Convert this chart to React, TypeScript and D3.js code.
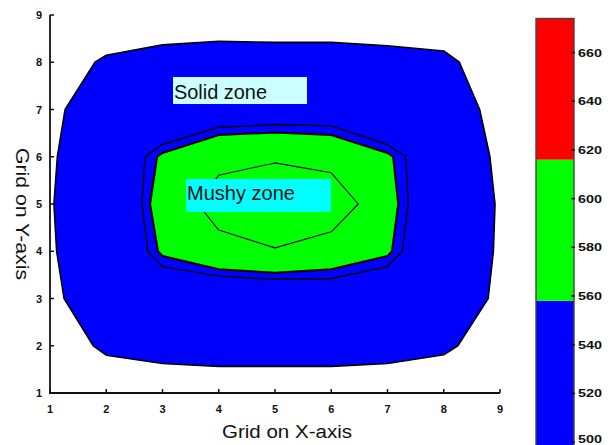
import React from "react";
import * as d3 from "d3";

// Temperature field sampled on a 9 x 9 grid (x = 1..9 left to right).
// Each row is one grid line in y, listed from y = 9 (top) down to y = 1.
const gridXValues = [1, 2, 3, 4, 5, 6, 7, 8, 9];
const gridYValues = [9, 8, 7, 6, 5, 4, 3, 2, 1];
const rowY9 = [480, 483, 488, 490, 489, 489, 487, 484, 480];
const rowY8 = [488, 503, 507, 508, 508, 508, 507, 505, 487];
const rowY7 = [497.8, 506, 512, 528.5, 531, 533, 512, 506, 496.6];
const rowY6 = [497.0, 520, 562, 583.1, 586.7, 579.3, 562, 522, 495.2];
const rowY5 = [499.25, 510, 571.6, 600.8, 612, 610.8, 567.5, 517.5, 498.3];
const rowY4 = [498.4, 512, 562, 581.2, 588.3, 575.5, 562, 512, 498.4];
const rowY3 = [498, 506, 522, 520, 522, 529.5, 522, 506, 498.4];
const rowY2 = [490, 503, 506, 507, 507, 507, 506, 504, 488];
const rowY1 = [480, 488, 490, 491, 491, 491, 490, 483, 480];

// Colour bands of the map and the colour bar
const bandLevels = [500, 558, 616, 674];
const bandColors = ["#0000ff", "#00ff00", "#ff0000"];
// Iso-lines drawn in black over the filled bands
const lineLevels = [500, 549, 558, 590];
const lineWidths = [1.6, 1.4, 2, 1.1];

const xTicks = [1, 2, 3, 4, 5, 6, 7, 8, 9];
const yTicks = [1, 2, 3, 4, 5, 6, 7, 8, 9];
const barTicks = [500, 520, 540, 560, 580, 600, 620, 640, 660];

const zoneLabels = [
  { text: "Solid zone", fill: "#ccffff" },
  { text: "Mushy zone", fill: "#00ffff" },
];

const FONT = "'Liberation Sans', Arial, sans-serif";

export default function App() {
  const width = 610;
  const height = 445;

  const x = d3.scaleLinear().domain([1, 9]).range([50, 500]);
  const y = d3.scaleLinear().domain([1, 9]).range([393, 15]);
  const bar = d3.scaleLinear().domain([500, 674]).range([442, 18.5]);

  const nx = gridXValues.length;
  const ny = gridYValues.length;
  const values = [rowY9, rowY8, rowY7, rowY6, rowY5, rowY4, rowY3, rowY2, rowY1].flat();

  const fills = d3.contours().size([nx, ny]).thresholds(bandLevels.slice(0, 3))(values);
  const lines = d3.contours().size([nx, ny]).thresholds(lineLevels)(values);

  // grid index i sits at contour coordinate i + 0.5
  const projection = d3.geoTransform({
    point: function (gx: number, gy: number) {
      const dataX = gridXValues[0] + (gx - 0.5) * (gridXValues[1] - gridXValues[0]);
      const dataY = gridYValues[0] + (gy - 0.5) * (gridYValues[1] - gridYValues[0]);
      (this as any).stream.point(x(dataX), y(dataY));
    },
  });
  const path = d3.geoPath(projection);

  const solidBox = { x0: 173, y0: 77, w: 134, h: 27, tx: 174, ty: 99, len: 93 };
  const mushyBox = { x0: 186, y0: 179, w: 145, h: 33, tx: 187, ty: 200, len: 108 };

  return (
    <svg
      width={width}
      height={height}
      style={{ position: "absolute", left: 0, top: 0, background: "#fff" }}
      fontFamily={FONT}
    >
      {/* filled bands */}
      {fills.map((c, i) => (
        <path key={"f" + i} d={path(c as any) || ""} fill={bandColors[i]} stroke="none" />
      ))}
      {/* iso-lines */}
      {lines.map((c, i) => (
        <path
          key={"l" + i}
          d={path(c as any) || ""}
          fill="none"
          stroke="#000"
          strokeWidth={lineWidths[i]}
          strokeLinejoin="round"
        />
      ))}

      {/* zone annotations */}
      {[solidBox, mushyBox].map((b, i) => (
        <g key={"z" + i}>
          <rect x={b.x0} y={b.y0} width={b.w} height={b.h} fill={zoneLabels[i].fill} />
          <text
            x={b.tx}
            y={b.ty}
            fontSize={20}
            textLength={b.len}
            lengthAdjust="spacingAndGlyphs"
            fill="#111"
          >
            {zoneLabels[i].text}
          </text>
        </g>
      ))}

      {/* axes */}
      <line x1={x(1)} y1={y(9)} x2={x(1)} y2={y(1) + 1} stroke="#111" strokeWidth={1.8} />
      <line x1={x(1) - 1} y1={y(1)} x2={x(9)} y2={y(1)} stroke="#111" strokeWidth={1.8} />
      {yTicks.map((t) => (
        <g key={"yt" + t}>
          <line x1={x(1)} x2={x(1) + 4} y1={y(t)} y2={y(t)} stroke="#111" strokeWidth={1.5} />
          <text
            x={39}
            y={y(t) + 4}
            fontSize={11}
            fontWeight="bold"
            textAnchor="middle"
            fill="#111"
          >
            {t}
          </text>
        </g>
      ))}
      {xTicks.map((t) => (
        <g key={"xt" + t}>
          <line x1={x(t)} x2={x(t)} y1={y(1)} y2={y(1) - 4} stroke="#111" strokeWidth={1.5} />
          <text
            x={x(t)}
            y={413}
            fontSize={11}
            fontWeight="bold"
            textAnchor="middle"
            fill="#111"
          >
            {t}
          </text>
        </g>
      ))}
      <text
        x={287}
        y={438}
        fontSize={18}
        textAnchor="middle"
        textLength={130}
        lengthAdjust="spacingAndGlyphs"
        fill="#111"
      >
        Grid on X-axis
      </text>
      <text
        transform="translate(22,214) rotate(90)"
        fontSize={18}
        textAnchor="middle"
        dy="0.35em"
        textLength={132}
        lengthAdjust="spacingAndGlyphs"
        fill="#111"
      >
        Grid on Y-axis
      </text>

      {/* colour bar */}
      {bandColors.map((col, i) => {
        const top = bar(bandLevels[i + 1]);
        const bottom = i === 0 ? height + 2 : bar(bandLevels[i]);
        return <rect key={"b" + i} x={536} y={top} width={38} height={bottom - top} fill={col} />;
      })}
      <rect
        x={536}
        y={bar(bandLevels[3])}
        width={38}
        height={height + 2 - bar(bandLevels[3])}
        fill="none"
        stroke="#444"
        strokeWidth={1.4}
      />
      {barTicks.map((t) => (
        <g key={"bt" + t}>
          <line x1={571} x2={575} y1={bar(t)} y2={bar(t)} stroke="#111" strokeWidth={1.5} />
          <text
            x={578}
            y={Math.min(bar(t) + 4, height - 2)}
            fontSize={11}
            fontWeight="bold"
            textLength={24}
            lengthAdjust="spacingAndGlyphs"
            fill="#111"
          >
            {t}
          </text>
        </g>
      ))}
    </svg>
  );
}
